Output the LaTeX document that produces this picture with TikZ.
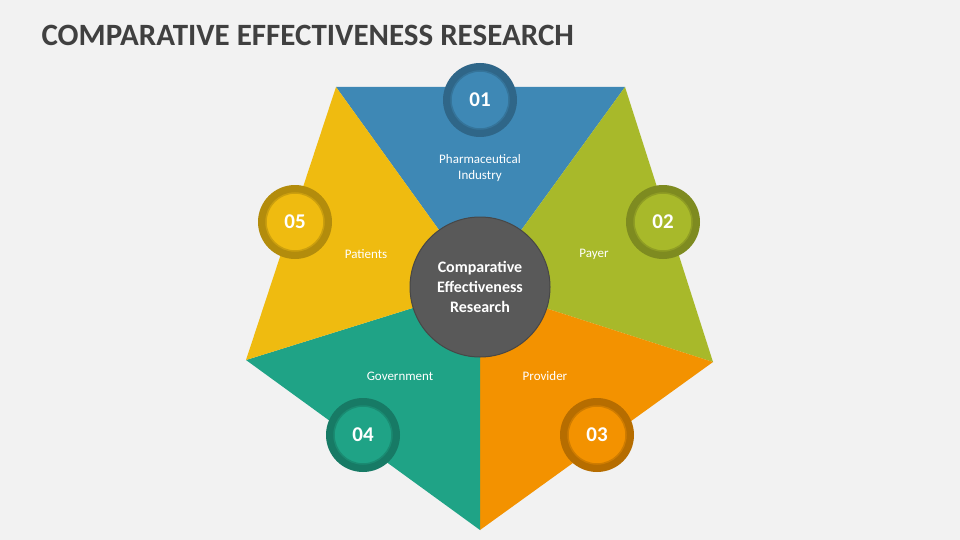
\documentclass[tikz,border=0pt]{standalone}
\usepackage{fontspec}
\setmainfont{Carlito}
\definecolor{bgcol}{HTML}{F2F2F2}
\definecolor{titlecol}{HTML}{404040}
\definecolor{bluecol}{HTML}{3E88B5}
\definecolor{greencol}{HTML}{A8B92A}
\definecolor{orangecol}{HTML}{F39200}
\definecolor{tealcol}{HTML}{1FA386}
\definecolor{yellowcol}{HTML}{EFBB10}
\definecolor{hubcol}{HTML}{595959}
\begin{document}
\begin{tikzpicture}[x=1pt,y=-1pt]
    % Styles
    \tikzset{
        num_ring/.style={circle, minimum size=74pt, inner sep=0pt},
        num_core/.style={circle, minimum size=58pt, inner sep=0pt, text=white,
            font=\fontsize{21}{21}\selectfont\bfseries},
        seg_label/.style={text=white, align=center, font=\fontsize{13}{16}\selectfont}
    }
    \fill[bgcol] (0,0) rectangle (960,540);
    \node[anchor=west, text=titlecol, font=\fontsize{31}{31}\selectfont\bfseries] (title) at (38,35) {COMPARATIVE EFFECTIVENESS RESEARCH};

    % Outer corners
    \coordinate (hub) at (480,287);
    \coordinate (p1) at (336,87);
    \coordinate (p2) at (625,87);
    \coordinate (p3) at (713,362);
    \coordinate (p4) at (480,530);
    \coordinate (p5) at (246,360);

    % Segments
    \fill[bluecol] (hub) -- (p1) -- (p2) -- cycle;
    \fill[greencol] (hub) -- (p2) -- (p3) -- cycle;
    \fill[orangecol] (hub) -- (p3) -- (p4) -- cycle;
    \fill[tealcol] (hub) -- (p4) -- (p5) -- cycle;
    \fill[yellowcol] (hub) -- (p5) -- (p1) -- cycle;

    % Segment labels
    \node[seg_label] (l1) at (480,168) {Pharmaceutical\\Industry};
    \node[seg_label] (l2) at (594,254) {Payer};
    \node[seg_label] (l3) at (545,376) {Provider};
    \node[seg_label] (l4) at (400,376) {Government};
    \node[seg_label] (l5) at (366,254) {Patients};

    % Number badges
    \foreach \n/\x/\y/\c in {01/480/100/bluecol, 02/663/222/greencol, 03/597/435/orangecol,
                             04/363/435/tealcol, 05/295/222/yellowcol} {
        \node[num_ring, fill=\c!75!black] (r\n) at (\x,\y) {};
        \node[num_core, fill=\c, draw=\c!85!black, line width=1.5pt] (n\n) at (\x,\y) {\n};
    }

    % Hub
    \node[circle, minimum size=140pt, fill=hubcol, draw=hubcol!80!black, line width=1pt,
        text=white, align=center, font=\fontsize{16}{20}\selectfont\bfseries] (core) at (hub)
        {Comparative\\Effectiveness\\Research};
\end{tikzpicture}
\end{document}
